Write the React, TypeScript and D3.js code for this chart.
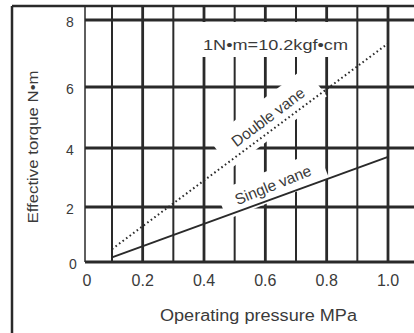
import React from 'react';
import * as d3 from 'd3';

// ---- data ----
const pressureGrid = [0, 0.1, 0.2, 0.3, 0.4, 0.5, 0.6, 0.7, 0.8, 0.9, 1.0];
const pressureLabels = [0, 0.2, 0.4, 0.6, 0.8, 1.0];
const torqueTicks = [0, 2, 4, 6, 8];
const singlePressure = [0.1, 1.0];
const singleTorque = [0.17, 3.7];
const doublePressure = [0.1, 1.0];
const doubleTorque = [0.47, 7.3];
const xTitle = 'Operating pressure MPa';
const yTitle = 'Effective torque N•m';
const noteText = '1N•m=10.2kgf•cm';
const singleLabel = 'Single vane';
const doubleLabel = 'Double vane';

const W = 414;
const H = 333;
const INK = '#2a2a2a';
const TXT = '#3a3a3a';
const FONT = '"Liberation Sans", Arial, Helvetica, sans-serif';

export default function App() {
  const x = d3.scaleLinear().domain([0, 0.1, 1.0]).range([85, 112, 388]);
  const y = d3.scaleLinear().domain([0, 2, 4, 6, 8]).range([262, 207, 148, 87, 20]);
  const frameTop = 6;

  const line = d3
    .line<[number, number]>()
    .x((d) => x(d[0]))
    .y((d) => y(d[1]));
  const singlePts = singlePressure.map((p, i) => [p, singleTorque[i]] as [number, number]);
  const doublePts = doublePressure.map((p, i) => [p, doubleTorque[i]] as [number, number]);

  const fmt = (v: number) => (v === 0 ? '0' : d3.format('.1f')(v));

  return (
    <svg
      width={W}
      height={H}
      style={{ position: 'absolute', left: 0, top: 0, background: '#fff' }}
      fontFamily={FONT}
    >
      <rect x={0} y={0} width={W} height={H} fill="#fff" />
      {/* outer frame */}
      <line x1={12} y1={frameTop} x2={12} y2={H} stroke={INK} strokeWidth={2.5} />
      <line x1={12} y1={frameTop} x2={W} y2={frameTop} stroke={INK} strokeWidth={2.5} />

      {/* vertical grid */}
      {pressureGrid.map((p, i) => (
        <line
          key={'v' + i}
          x1={x(p)}
          x2={x(p)}
          y1={frameTop}
          y2={y(0)}
          stroke={INK}
          strokeWidth={i === 0 ? 1.5 : i % 2 === 1 ? 2 : 2.8}
        />
      ))}
      {/* horizontal grid */}
      {torqueTicks.map((t, i) => (
        <line
          key={'h' + i}
          x1={x(0)}
          x2={W}
          y1={y(t)}
          y2={y(t)}
          stroke={INK}
          strokeWidth={3}
        />
      ))}

      {/* white masks behind labels */}
      <rect x={200} y={22} width={150} height={35} fill="#fff" />
      <g transform="translate(268,118) rotate(-37)">
        <rect x={-60} y={-18} width={120} height={36} fill="#fff" />
      </g>
      <g transform="translate(273,186) rotate(-22)">
        <rect x={-55} y={-16} width={110} height={30} fill="#fff" />
      </g>

      {/* series */}
      <path d={line(doublePts) || ''} fill="none" stroke={INK} strokeWidth={2} strokeDasharray="1.6 2.8" />
      <path d={line(singlePts) || ''} fill="none" stroke={INK} strokeWidth={2} />

      {/* labels */}
      <text
        x={275.5}
        y={50}
        fontSize={15}
        fill={TXT}
        textAnchor="middle"
        textLength={145}
        lengthAdjust="spacingAndGlyphs"
      >
        {noteText}
      </text>
      <text
        transform="translate(268,117) rotate(-37)"
        fontSize={15.5}
        fill={TXT}
        textAnchor="middle"
        dy="0.35em"
      >
        {doubleLabel}
      </text>
      <text
        transform="translate(273,185) rotate(-22)"
        fontSize={15.5}
        fill={TXT}
        textAnchor="middle"
        dy="0.35em"
      >
        {singleLabel}
      </text>

      {/* y tick labels */}
      {torqueTicks.map((t, i) => (
        <text
          key={'yt' + i}
          x={t === 0 ? 73 : 70}
          y={y(t) + 2}
          fontSize={14}
          fill={TXT}
          textAnchor="middle"
          dy="0.35em"
        >
          {String(t)}
        </text>
      ))}
      {/* x tick labels */}
      {pressureLabels.map((p, i) => (
        <text
          key={'xt' + i}
          x={x(p) + (p === 0 ? 2 : 0)}
          y={280}
          fontSize={16}
          fill={TXT}
          textAnchor="middle"
          dy="0.35em"
        >
          {fmt(p)}
        </text>
      ))}

      {/* axis titles */}
      <text
        x={258.5}
        y={321}
        fontSize={16}
        fill={TXT}
        textAnchor="middle"
        textLength={197}
        lengthAdjust="spacingAndGlyphs"
      >
        {xTitle}
      </text>
      <text
        transform="translate(38,147) rotate(-90)"
        fontSize={14}
        fill={TXT}
        textAnchor="middle"
        textLength={153}
        lengthAdjust="spacingAndGlyphs"
      >
        {yTitle}
      </text>
    </svg>
  );
}
